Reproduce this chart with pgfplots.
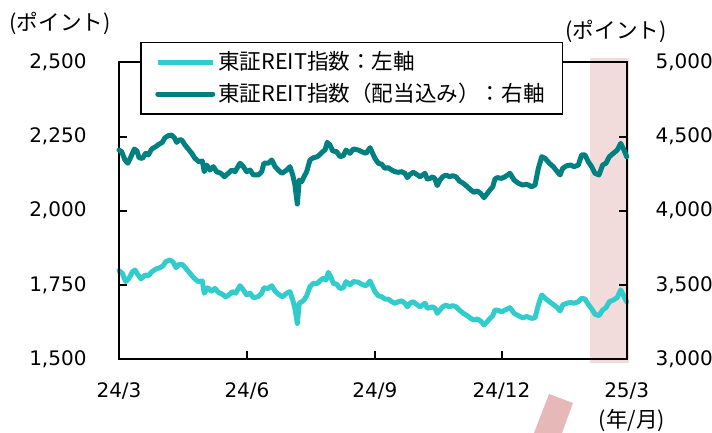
\documentclass[border=0pt]{standalone}
\usepackage{fontspec}
\setmainfont{DejaVu Sans}
\newfontfamily\jp{Noto Sans CJK JP}
\usepackage{pgfplots}
\pgfplotsset{compat=1.18}

\definecolor{reitlight}{RGB}{51,204,204}
\definecolor{reitdark}{RGB}{0,128,128}
\definecolor{shadepink}{RGB}{242,220,219}
\definecolor{arrowpink}{RGB}{230,184,183}

% x = days since 2024-03-01
\pgfplotsset{
  reitaxis/.style={
    scale only axis, width=253.85pt, height=148.3pt,
    at={(59.5pt,37pt)}, anchor=south west,
    xmin=0, xmax=365,
    tick align=inside, major tick length=3.8pt,
    tick style={black, line width=1pt},
    axis line style={black, line width=1.1pt},
    ticklabel style={font=\fontsize{10}{12}\selectfont},
    /pgf/number format/assume math mode=true,
    clip=false,
  }
}

\begin{document}
\begin{tikzpicture}
\useasboundingbox (0,0) rectangle (356pt,216.5pt);

\begin{axis}[reitaxis, axis on top,
  ymin=1500, ymax=2500,
  xtick={0,92,184,275,365},
  xticklabels={24/3,24/6,24/9,24/12,25/3},
  xtick pos=bottom, ytick pos=left,
  ytick={1500,1750,2000,2250,2500},
  yticklabels={{1,500},{1,750},{2,000},{2,250},{2,500}},
  yticklabel style={xshift=-12.7pt},
  xticklabel style={yshift=-8.5pt},
]
\fill[shadepink] (axis cs:338.6,1487) rectangle (axis cs:366.7,2515);
\addplot[reitlight, line width=2.5pt, line join=round, line cap=round] coordinates {
(0,1798) (2.4,1789) (4.8,1761) (7.2,1772) (9.6,1794) (11.5,1800) (13.4,1786) (15.8,1770)
(18.7,1783) (21.1,1781) (23.5,1794) (26.4,1803) (29.5,1808) (31.8,1815) (33.6,1828) (36.7,1834)
(39.0,1826) (41.0,1808) (43.1,1819) (45.5,1819) (48.0,1806) (51.0,1789) (54.1,1772) (57.0,1761)
(59.9,1763) (61.3,1722) (63.8,1740) (66.6,1729) (69.0,1738) (71.4,1725) (74.3,1718) (76.7,1710)
(79.1,1716) (81.5,1727) (83.9,1722) (87.0,1747) (89.4,1733) (91.8,1716) (94.2,1722) (96.6,1707)
(100.1,1710) (102.6,1722) (104.2,1740) (107.3,1738) (109.8,1747) (112.2,1729) (115.2,1716) (117.7,1710)
(120.6,1722) (122.9,1727) (125.3,1693) (126.7,1665) (128.2,1620) (129.6,1688) (131.4,1693) (133.0,1699)
(134.9,1713) (137.3,1744) (139.7,1755) (142.6,1755) (145.0,1766) (146.9,1772) (148.8,1766) (150.5,1792)
(152.2,1777) (154.1,1755) (156.5,1752) (158.9,1738) (161.3,1740) (163.2,1761) (166.1,1750) (168.4,1761)
(172.0,1759) (174.5,1752) (177.6,1747) (180.5,1763) (184.0,1727) (186.4,1713) (188.9,1710) (191.2,1702)
(193.6,1702) (196.1,1693) (198.4,1688) (200.8,1693) (203.2,1696) (205.6,1688) (207.3,1676) (209.2,1688)
(211.6,1693) (214.0,1684) (216.4,1676) (218.3,1682) (220.0,1688) (221.6,1671) (223.6,1673) (225.5,1676)
(227.2,1671) (228.8,1654) (230.8,1665) (232.7,1676) (235.1,1682) (237.5,1676) (239.9,1680) (242.3,1676)
(244.7,1665) (247.5,1654) (250.4,1646) (252.9,1637) (255.2,1631) (257.6,1635) (260.0,1628) (262.4,1615)
(264.8,1626) (266.7,1637) (268.7,1646) (270.3,1665) (272.0,1665) (275.1,1659) (277.5,1665) (281.1,1673)
(284.0,1654) (287.1,1646) (290.2,1639) (293.1,1643) (296.7,1637) (299.1,1639) (301.5,1682) (303.9,1716)
(306.3,1705) (309.4,1693) (312.2,1684) (315.1,1673) (317.1,1662) (319.0,1682) (321.9,1688) (324.7,1691)
(327.1,1688) (330.2,1693) (332.6,1705) (335.0,1702) (337.4,1684) (339.8,1669) (342.2,1651) (345.1,1646)
(347.7,1665) (350.1,1673) (352.5,1693) (355.4,1699) (358.2,1707) (360.7,1733) (363.1,1710) (365.0,1693)
};
\end{axis}

\begin{axis}[reitaxis,
  ymin=3000, ymax=5000,
  axis x line=none, axis y line*=right,
  ytick={3000,3500,4000,4500,5000},
  yticklabels={{3,000},{3,500},{4,000},{4,500},{5,000}},
  yticklabel style={xshift=10.9pt},
  legend style={at={(axis description cs:0.0414,1.0688)}, anchor=north west,
    draw=black, line width=0.75pt, fill=white,
    inner xsep=7.25pt, inner ysep=3pt, row sep=2.2pt,
    nodes={inner sep=1.5pt},
    font=\jp\fontsize{10.8}{12}\selectfont},
  legend cell align=left,
  legend image code/.code={\draw[#1, line width=2.5pt] (0pt,0pt) -- (27.5pt,0pt);},
]
\addlegendimage{reitlight, line width=2.5pt}
\addlegendentry{東証REIT指数：左軸}
\addplot[reitdark, line width=2.5pt, line join=round, line cap=round] coordinates {
(0,4409) (1.9,4398) (4.3,4342) (6.3,4320) (8.6,4364) (11.0,4416) (12.9,4403) (14.4,4357)
(16.8,4353) (19.2,4387) (21.1,4376) (23.5,4416) (26.4,4432) (28.8,4448) (31.1,4461) (33.1,4492)
(35.4,4506) (37.9,4510) (39.8,4492) (41.5,4461) (43.1,4477) (45.1,4477) (47.4,4443) (49.8,4416)
(52.3,4387) (54.6,4353) (57.5,4330) (59.9,4335) (61.3,4263) (63.1,4308) (65.4,4274) (67.8,4297)
(70.2,4263) (73.3,4252) (75.7,4229) (78.6,4252) (81.0,4274) (83.4,4263) (87.0,4320) (89.4,4297)
(91.8,4263) (94.2,4274) (96.6,4241) (100.1,4241) (102.6,4263) (104.2,4320) (107.3,4320) (109.8,4342)
(112.2,4297) (114.5,4274) (117.0,4252) (120.6,4274) (122.9,4297) (124.9,4241) (126.5,4173) (128.2,4045)
(129.6,4207) (131.4,4196) (133.0,4229) (134.9,4263) (137.3,4342) (139.7,4357) (142.6,4364) (144.5,4380)
(146.4,4398) (148.1,4409) (149.7,4461) (151.7,4443) (153.6,4403) (156.5,4398) (158.9,4364) (161.3,4371)
(163.2,4409) (166.1,4387) (168.4,4416) (172.0,4409) (174.5,4398) (177.6,4387) (180.5,4425) (184.0,4353)
(186.4,4320) (188.9,4313) (191.2,4286) (193.6,4290) (196.1,4274) (198.4,4263) (200.8,4259) (203.2,4263)
(205.6,4252) (207.3,4223) (209.2,4245) (211.6,4259) (214.0,4245) (216.4,4229) (218.3,4241) (220.0,4252)
(221.6,4214) (223.6,4218) (225.5,4229) (227.2,4214) (228.8,4169) (230.8,4207) (232.7,4229) (235.1,4241)
(237.5,4229) (239.9,4236) (242.3,4229) (244.7,4200) (247.5,4185) (250.4,4162) (252.9,4140) (255.2,4124)
(257.6,4133) (260.0,4117) (262.4,4088) (264.8,4117) (266.7,4140) (268.7,4162) (270.3,4214) (272.0,4223)
(275.1,4218) (277.5,4229) (281.1,4252) (284.0,4207) (287.1,4185) (290.2,4173) (293.1,4178) (296.7,4162)
(299.1,4173) (301.5,4286) (303.9,4364) (306.3,4353) (309.4,4320) (312.2,4297) (315.1,4263) (317.1,4241)
(319.0,4286) (321.9,4303) (324.7,4308) (327.1,4297) (330.2,4308) (332.6,4376) (335.0,4376) (337.4,4330)
(339.8,4297) (342.2,4252) (345.1,4241) (347.7,4308) (350.1,4320) (352.5,4364) (355.4,4387) (358.2,4409)
(360.7,4454) (363.1,4409) (365.0,4364)
};
\addlegendentry{東証REIT指数（配当込み）：右軸}
\end{axis}

\fill[arrowpink] (274.5pt,19.5pt) -- (286.5pt,15pt) -- (281pt,0pt) -- (267pt,0pt) -- cycle;
\node[font=\jp\fontsize{10.8}{12}\selectfont] at (30pt,204.75pt) {(ポイント)};
\node[font=\jp\fontsize{10.8}{12}\selectfont] at (308pt,200.75pt) {(ポイント)};
\node[font=\jp\fontsize{10.8}{12}\selectfont] at (316pt,6pt) {(年/月)};
\end{tikzpicture}
\end{document}
